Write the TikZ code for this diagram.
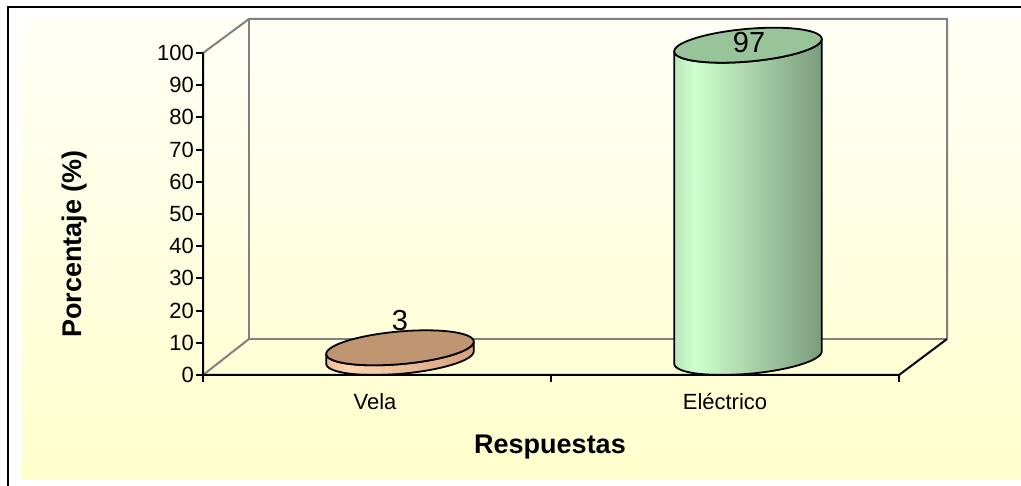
\documentclass[tikz,border=0pt]{standalone}
\usepackage{fontspec}
\setmainfont{Liberation Sans}

\definecolor{bgtop}{RGB}{255,255,246}
\definecolor{bgbot}{RGB}{255,255,204}
\definecolor{wallgrey}{RGB}{128,128,128}
\definecolor{velatop}{RGB}{192,149,113}
\definecolor{velaA}{RGB}{236,186,146}
\definecolor{velaB}{RGB}{252,212,176}
\definecolor{velaC}{RGB}{214,160,122}
\definecolor{eltop}{RGB}{153,196,153}
\definecolor{elA}{RGB}{186,230,186}
\definecolor{elB}{RGB}{206,255,206}
\definecolor{elC}{RGB}{124,156,124}

% side shading of the bars, light band near the left edge
\pgfdeclarehorizontalshading{velaside}{100bp}{color(0bp)=(velaA); color(25bp)=(velaA); color(32bp)=(velaB); color(75bp)=(velaC); color(100bp)=(velaC)}
\pgfdeclarehorizontalshading{elside}{100bp}{color(0bp)=(elA); color(25bp)=(elA); color(32bp)=(elB); color(75bp)=(elC); color(100bp)=(elC)}

\tikzset{
  axisline/.style={line width=2pt, black},
  wallline/.style={line width=2pt, wallgrey},
  barline/.style={line width=1.8pt, black, line join=round},
  ticklabel/.style={anchor=east, inner sep=0pt, font=\fontsize{22}{25}\selectfont},
  catlabel/.style={anchor=base, inner sep=0pt, font=\fontsize{22}{26}\selectfont},
  titlelabel/.style={inner sep=0pt, font=\fontsize{27}{30}\selectfont\bfseries},
  datalabel/.style={inner sep=0pt, font=\fontsize{29}{32}\selectfont}
}

% cylinder: #1 centre x, #2 top centre y, #3 side shading, #4 top colour
\newcommand{\cylbar}[4]{%
  \shade[shading=#3]
    plot[domain=200.65:380.65, samples=60] ({#1+69*cos(\x)+26*sin(\x)}, {357.5-17.5*sin(\x)})
    -- plot[domain=380.65:200.65, samples=60] ({#1+69*cos(\x)+26*sin(\x)}, {#2-17.5*sin(\x)})
    -- cycle;
  \draw[barline]
    plot[domain=200.65:380.65, samples=60] ({#1+69*cos(\x)+26*sin(\x)}, {357.5-17.5*sin(\x)})
    -- plot[domain=380.65:200.65, samples=60] ({#1+69*cos(\x)+26*sin(\x)}, {#2-17.5*sin(\x)})
    -- cycle;
  \filldraw[barline, fill=#4]
    plot[domain=0:360, samples=90] ({#1+69*cos(\x)+26*sin(\x)}, {#2-17.5*sin(\x)}) -- cycle;
}

\begin{document}
\begin{tikzpicture}[x=1pt, y=-1pt]

    \useasboundingbox (0,0) rectangle (1021,486);

    % chart background and frame
    \shade[top color=bgtop, bottom color=bgbot] (21,19) rectangle (1021,478);
    \draw[line width=1.5pt] (8,495) -- (8,7) -- (1030,7);

    % back walls
    \draw[wallline] (203,53) -- (249,19) -- (947,19) -- (947,339);
    \draw[wallline] (249,19) -- (249,339) -- (947,339);
    \draw[wallline] (249,339) -- (203,375);

    % bars (value v -> top centre y = 357.5 - 3.22 v)
    \cylbar{400}{347.8}{velaside}{velatop}
    \cylbar{748}{45.2}{elside}{eltop}

    % front axes
    \draw[axisline] (203,53) -- (203,375) -- (899,375) -- (947,339);
    \foreach \v in {0,10,...,100} {
        \draw[axisline] (196,{375-3.22*\v}) -- (203,{375-3.22*\v});
        \node[ticklabel] (tick\v) at (194,{375-3.22*\v}) {\v};
    }
    \foreach \px in {203,551,899}
        \draw[axisline] (\px,375) -- (\px,382);

    % data labels
    \node[datalabel] (valvela) at (400,321) {3};
    \node[datalabel] (valelec) at (749,43) {97};

    % category labels
    \node[catlabel] (catvela) at (375,410) {Vela};
    \node[catlabel] (catelec) at (725,410) {Eléctrico};

    % axis titles
    \node[titlelabel] (xtitle) at (550,447) {Respuestas};
    \node[titlelabel, rotate=90] (ytitle) at (75,244) {Porcentaje (\%)};

\end{tikzpicture}
\end{document}
